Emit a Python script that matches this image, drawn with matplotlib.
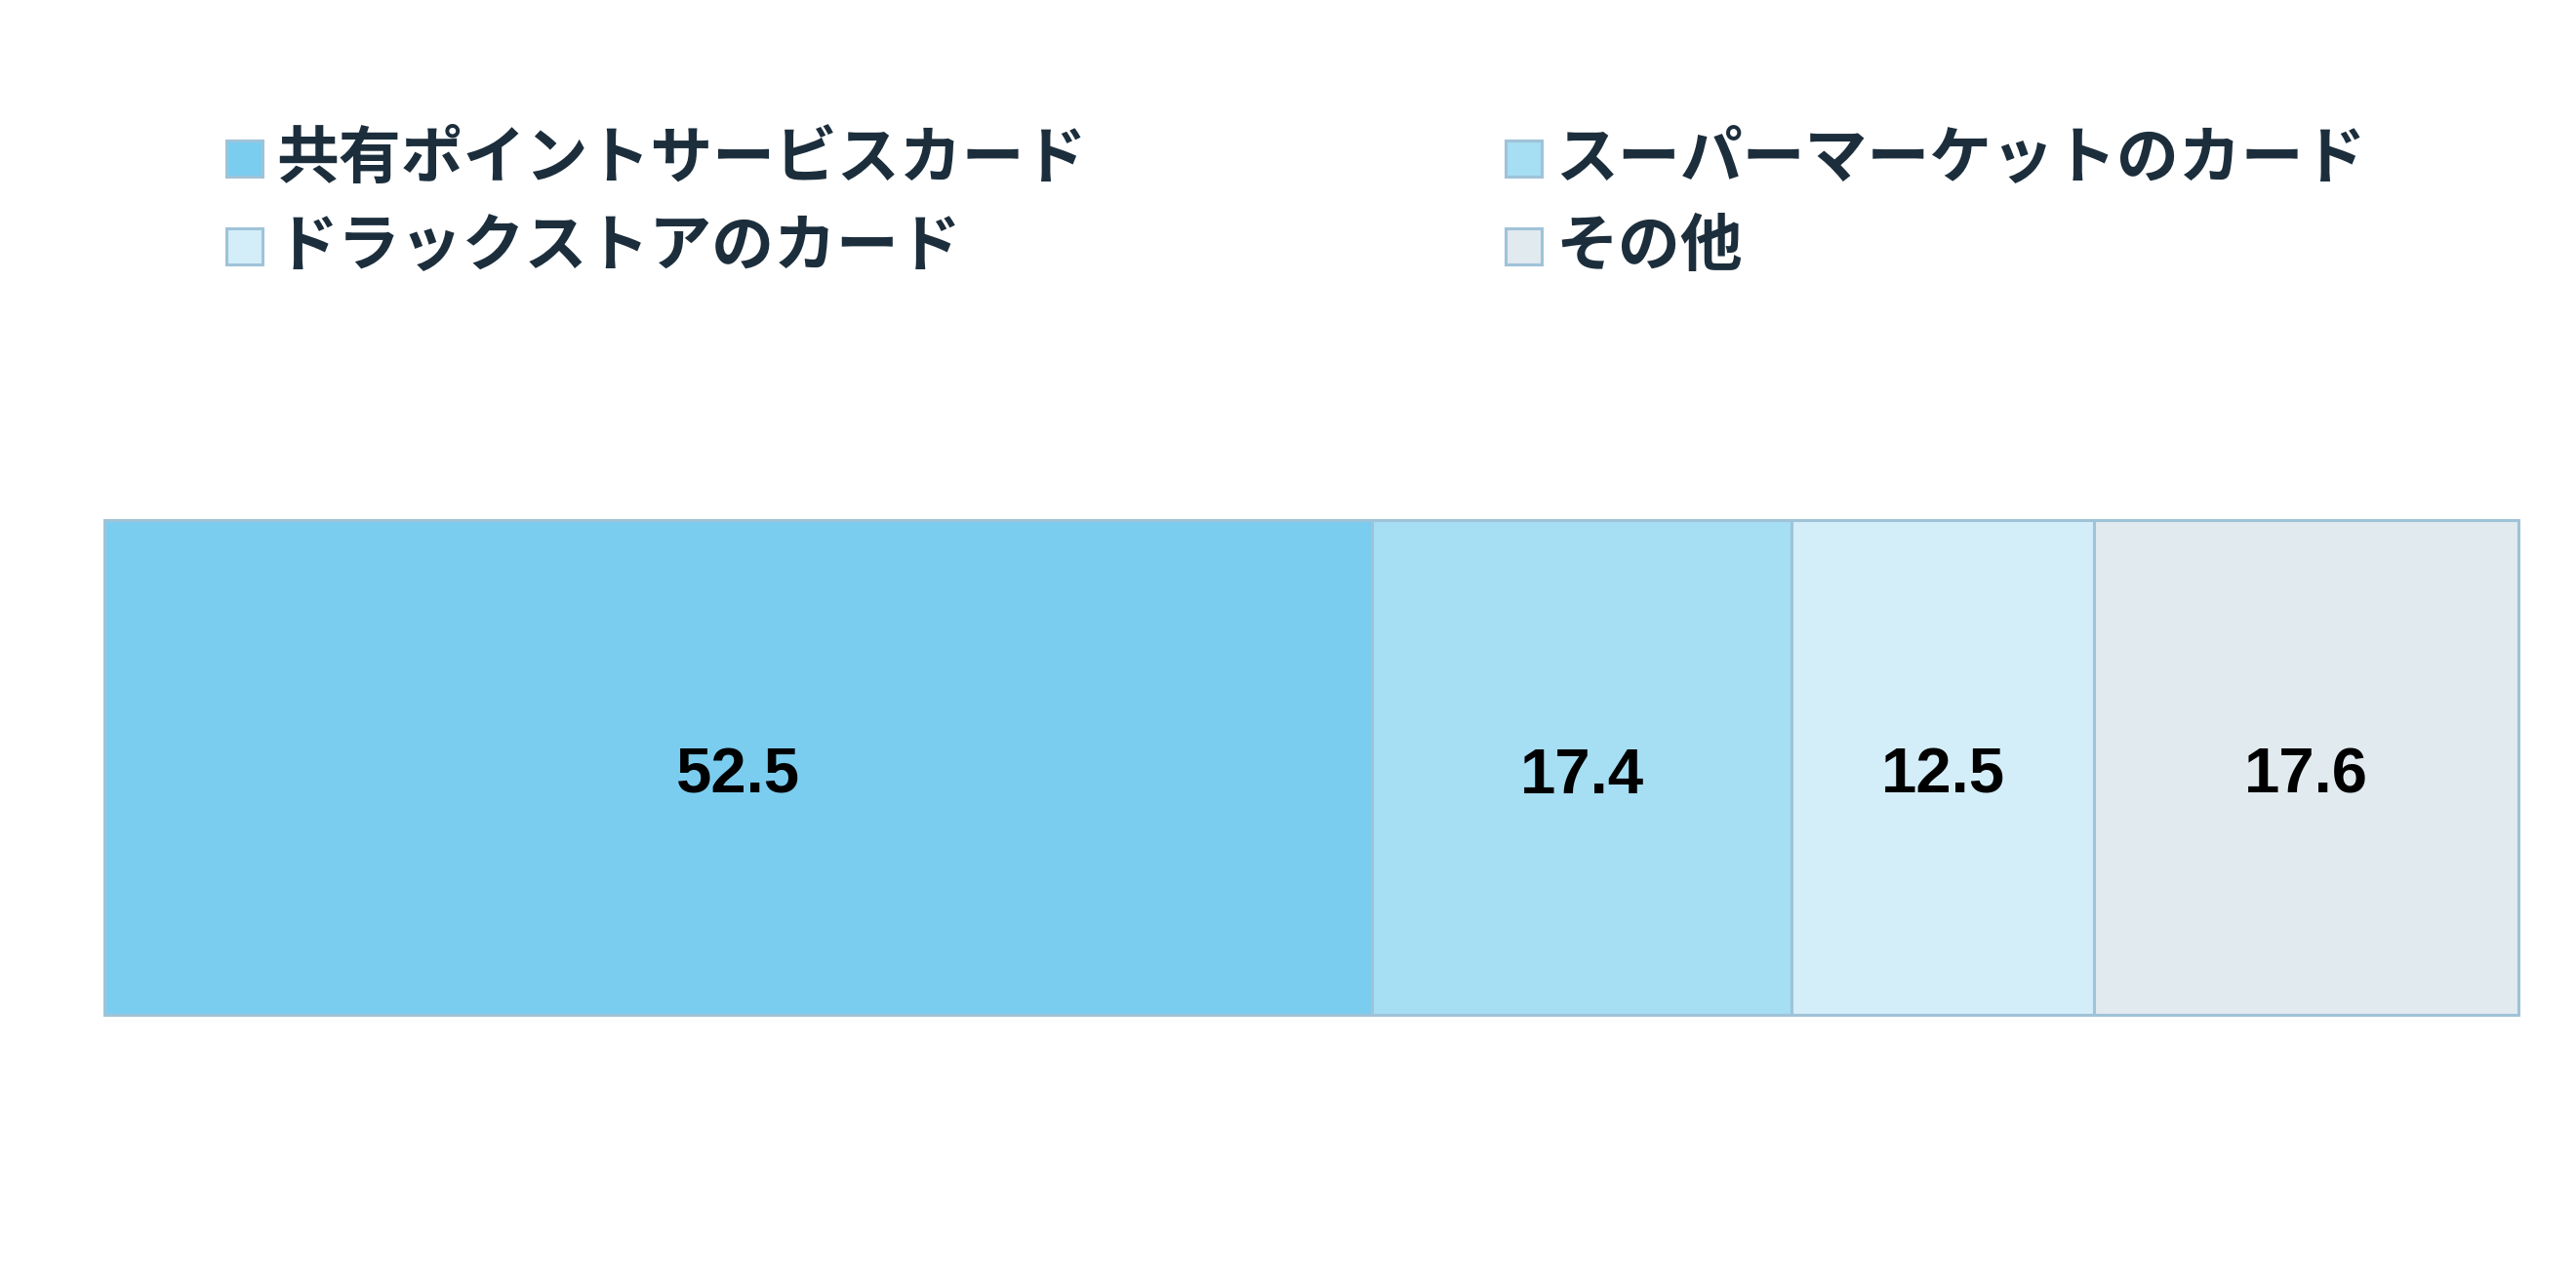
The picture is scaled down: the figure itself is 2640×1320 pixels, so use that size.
import matplotlib
matplotlib.use("Agg")
import matplotlib.pyplot as plt
from matplotlib.patches import Rectangle

categories = ["共有ポイントサービスカード", "スーパーマーケットのカード", "ドラックストアのカード", "その他"]
values = [52.5, 17.4, 12.5, 17.6]
colors = ["#7bcdef", "#a6def3", "#d4eef9", "#e1eaef"]
edge = "#9fc3d8"
text_color = "#1c2e3c"

W, H = 2640, 1320
fig = plt.figure(figsize=(W / 100, H / 100), dpi=100)
fig.patch.set_facecolor("white")

# bar axes
ax = fig.add_axes([107 / W, 1 - 1040 / H, 2474 / W, 507 / H])
left = 0
for v, c in zip(values, colors):
    ax.barh(0, v, left=left, height=1.0, color=c, edgecolor=edge, linewidth=2.2, clip_on=False)
    ax.annotate(f"{v:.1f}", xy=(left + v / 2, 0), xytext=(0, -6.5), textcoords="offset points",
                ha="center", va="center", fontsize=47, fontweight="bold", color="black",
                family=["Liberation Sans", "DejaVu Sans"])
    left += v
ax.set_xlim(0, sum(values))
ax.set_ylim(-0.5, 0.5)
ax.axis("off")

# legend: two columns
legend_order = [0, 1, 2, 3]
col_x = [232, 1543]
row_y = [144, 234]
sq = 37
for i, idx in enumerate(legend_order):
    col = i % 2
    row = i // 2
    x0 = col_x[col]
    y0 = row_y[row]
    rect = Rectangle((x0 / W, 1 - (y0 + sq) / H), sq / W, sq / H, transform=fig.transFigure,
                     facecolor=colors[idx], edgecolor=edge, linewidth=2.2)
    fig.patches.append(rect)
    fig.text((x0 + 51) / W, 1 - (y0 + sq / 2 + 1) / H, categories[idx], ha="left", va="center",
             fontsize=46, fontweight="bold", color=text_color,
             family=["Noto Sans CJK JP", "DejaVu Sans"])

fig.savefig("out.png", dpi=100, facecolor="white")
